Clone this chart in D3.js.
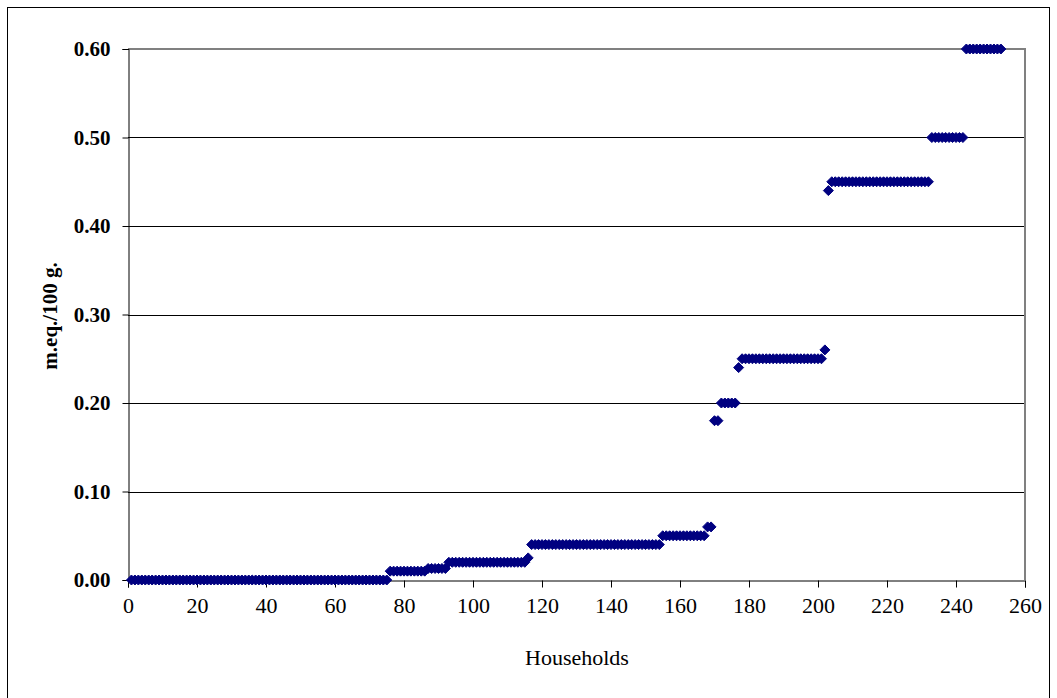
<!DOCTYPE html>
<html>
<head>
<meta charset="utf-8">
<script src="https://cdn.jsdelivr.net/npm/d3@7"></script>
<style>
  body { margin: 0; background: #fff; }
  svg { display: block; }
</style>
</head>
<body>
<svg id="chart"></svg>
<script>
// sorted household values, stored as runs (level, how many households)
const levels = [0.00, 0.01, 0.013, 0.02, 0.025, 0.04, 0.05, 0.06, 0.18, 0.20, 0.24, 0.25, 0.26, 0.44, 0.45, 0.50, 0.60];
const counts = [75, 11, 6, 23, 1, 38, 13, 2, 2, 5, 1, 24, 1, 1, 29, 10, 11];
const xTicks = [0, 20, 40, 60, 80, 100, 120, 140, 160, 180, 200, 220, 240, 260];
const yTicks = [0, 0.1, 0.2, 0.3, 0.4, 0.5, 0.6];

const width = 1057, height = 698;
const margin = {top: 49, right: 32, bottom: 118, left: 128};

const svg = d3.select("#chart")
  .attr("width", width)
  .attr("height", height);

// outer chart frame
svg.append("rect")
  .attr("x", 7.5).attr("y", 7.5)
  .attr("width", 1042).attr("height", 700)
  .attr("fill", "none")
  .attr("stroke", "#000")
  .attr("stroke-width", 1);

const data = [];
let n = 0;
levels.forEach((v, i) => {
  for (let k = 0; k < counts[i]; k++) {
    n += 1;
    data.push({x: n, y: v});
  }
});

const x = d3.scaleLinear().domain([0, 260]).range([margin.left, width - margin.right]);
const y = d3.scaleLinear().domain([0, 0.6]).range([height - margin.bottom, margin.top]);

// gridlines
svg.append("g")
  .selectAll("line")
  .data(yTicks.slice(1))
  .enter().append("line")
  .attr("x1", x(0)).attr("x2", x(260))
  .attr("y1", d => Math.round(y(d)) + 0.5)
  .attr("y2", d => Math.round(y(d)) + 0.5)
  .attr("stroke", "#000")
  .attr("stroke-width", 1);

// plot area border (top / right)
svg.append("path")
  .attr("d", `M${x(0)},${y(0.6)}H${x(260)}V${y(0)}`)
  .attr("fill", "none")
  .attr("stroke", "#808080")
  .attr("stroke-width", 2);

const xAxis = svg.append("g")
  .attr("transform", `translate(0,${Math.round(y(0)) + 0.5})`)
  .call(d3.axisBottom(x).tickValues(xTicks).tickSize(7).tickPadding(10).tickFormat(d3.format("d")));

xAxis.select(".domain").attr("stroke", "#000");
xAxis.selectAll("text")
  .attr("fill", "#000")
  .style("font-family", "'Liberation Serif', 'Times New Roman', serif")
  .style("font-size", "22px");

const yAxis = svg.append("g")
  .attr("transform", `translate(${x(0) + 0.5},0)`)
  .call(d3.axisLeft(y).tickValues(yTicks).tickSize(6).tickPadding(12).tickFormat(d3.format(".2f")));

yAxis.select(".domain").attr("stroke", "#000");
yAxis.selectAll("text")
  .attr("fill", "#000")
  .style("font-family", "'Liberation Serif', 'Times New Roman', serif")
  .style("font-weight", "bold")
  .style("font-size", "21px");

// markers
const diamond = "M0,-5L5,0L0,5L-5,0Z";
svg.append("g")
  .selectAll("path")
  .data(data)
  .enter().append("path")
  .attr("d", diamond)
  .attr("transform", d => `translate(${x(d.x)},${y(d.y)})`)
  .attr("fill", "#000080")
  .attr("stroke", "#000080")
  .attr("stroke-width", 1);

// axis titles
svg.append("text")
  .attr("x", 577).attr("y", 665)
  .attr("text-anchor", "middle")
  .style("font-family", "'Liberation Serif', 'Times New Roman', serif")
  .style("font-size", "22px")
  .text("Households");

svg.append("text")
  .attr("transform", "translate(57,316) rotate(-90)")
  .attr("text-anchor", "middle")
  .style("font-family", "'Liberation Serif', 'Times New Roman', serif")
  .style("font-weight", "bold")
  .style("font-size", "21px")
  .text("m.eq./100 g.");
</script>
</body>
</html>
